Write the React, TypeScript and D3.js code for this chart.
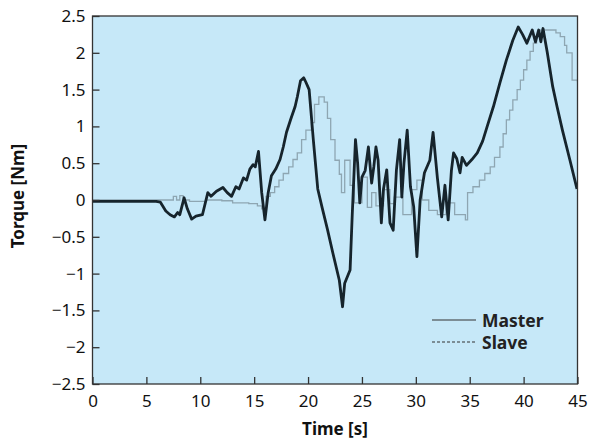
import React, { useEffect, useRef } from 'react';
import * as d3 from 'd3';

// master torque trace (time in s, torque in Nm)
const masterTime = [0, 5.9, 6.3, 6.8, 7.2, 7.6, 7.9, 8.1, 8.5, 8.8, 9.2, 9.6, 10.2, 10.7, 11.0, 11.5, 12.1, 12.5, 12.9, 13.3, 13.6, 14.0, 14.3, 14.6, 14.9, 15.1, 15.4, 15.7, 16.0, 16.3, 16.6, 17.0, 17.4, 17.7, 18.0, 18.4, 18.8, 19.0, 19.3, 19.6, 19.8, 20.1, 20.5, 20.9, 21.3, 21.8, 22.3, 22.9, 23.2, 23.4, 23.9, 24.1, 24.4, 24.6, 24.8, 25.0, 25.3, 25.6, 25.9, 26.1, 26.3, 26.5, 26.8, 27.0, 27.3, 27.6, 27.9, 28.2, 28.5, 28.7, 28.9, 29.2, 29.5, 29.8, 30.1, 30.4, 30.8, 31.3, 31.6, 32.0, 32.4, 32.7, 33.0, 33.3, 33.5, 33.8, 34.1, 34.3, 34.7, 35.2, 35.7, 36.2, 36.6, 37.2, 37.8, 38.4, 39.0, 39.5, 39.9, 40.3, 40.8, 41.1, 41.4, 41.6, 41.8, 42.2, 42.7, 43.1, 43.6, 44.3, 44.95];
const masterTorque = [-0.02, -0.02, -0.03, -0.15, -0.2, -0.23, -0.17, -0.2, 0.03, -0.12, -0.26, -0.22, -0.2, 0.1, 0.05, 0.12, 0.17, 0.1, 0.05, 0.18, 0.15, 0.3, 0.27, 0.42, 0.48, 0.45, 0.66, 0.1, -0.27, 0.1, 0.33, 0.42, 0.55, 0.72, 0.92, 1.1, 1.27, 1.4, 1.62, 1.66, 1.6, 1.5, 0.8, 0.15, -0.1, -0.4, -0.72, -1.09, -1.45, -1.13, -0.95, -0.2, 0.82, 0.5, -0.04, 0.31, 0.4, 0.72, 0.23, 0.45, 0.72, 0.54, -0.31, 0.15, 0.41, -0.31, -0.41, 0.41, 0.82, 0.04, 0.5, 0.95, 0.18, -0.09, -0.77, 0.0, 0.37, 0.54, 0.92, 0.3, -0.23, 0.2, -0.27, 0.4, 0.64, 0.56, 0.37, 0.58, 0.47, 0.55, 0.64, 0.8, 0.99, 1.27, 1.59, 1.9, 2.17, 2.35, 2.25, 2.13, 2.31, 2.15, 2.31, 2.15, 2.33, 2.0, 1.54, 1.27, 0.95, 0.54, 0.15];

// slave torque trace (stepped)
const slaveTime = [0, 7.3, 7.5, 7.8, 8.1, 8.4, 9.0, 10.5, 12.0, 13.0, 14.5, 15.3, 15.7, 16.1, 16.5, 16.9, 17.3, 17.7, 18.2, 18.6, 19.0, 19.4, 19.8, 20.3, 20.6, 21.0, 21.5, 21.8, 22.1, 22.5, 22.9, 23.1, 23.4, 23.9, 24.3, 25.0, 25.5, 25.9, 26.3, 27.0, 27.6, 28.0, 28.8, 29.6, 30.1, 30.6, 31.2, 32.0, 32.8, 33.6, 34.6, 34.8, 35.3, 35.9, 36.4, 36.9, 37.3, 37.8, 38.1, 38.4, 38.7, 39.0, 39.4, 39.7, 40.0, 40.3, 40.6, 40.9, 41.2, 41.5, 42.4, 43.0, 43.4, 43.8, 44.0, 44.5, 45];
const slaveTorque = [0, 0, 0.05, 0, 0.06, 0, -0.02, 0, -0.01, -0.04, -0.05, -0.08, -0.12, 0.05, 0.1, 0.18, 0.27, 0.36, 0.45, 0.55, 0.64, 0.82, 0.95, 1.05, 1.3, 1.4, 1.33, 1.11, 0.82, 0.54, 0.35, 0.1, 0.54, 0.2, -0.04, 0.31, -0.1, 0.1, -0.08, 0.14, -0.05, 0.04, -0.2, 0.14, 0.27, 0, -0.14, -0.2, -0.04, -0.2, -0.27, 0.1, 0.18, 0.27, 0.36, 0.45, 0.58, 0.72, 0.9, 1.09, 1.22, 1.36, 1.5, 1.63, 1.77, 1.9, 2.02, 2.13, 2.22, 2.31, 2.31, 2.27, 2.22, 2.1, 2.0, 1.63, 1.6];

const xTicks = [0, 5, 10, 15, 20, 25, 30, 35, 40, 45];
const yTicks = [-2.5, -2, -1.5, -1, -0.5, 0, 0.5, 1, 1.5, 2, 2.5];

const FONT = '"Noto Sans", "Open Sans", sans-serif';

const App = () => {
	const ref = useRef<SVGSVGElement>(null);

	useEffect(() => {
		const svg = d3.select(ref.current);
		svg.selectAll('*').remove();

		const left = 92.5, right = 577.5, top = 16, bottom = 384;
		const x = d3.scaleLinear().domain([0, 45]).range([left, right]);
		const y = d3.scaleLinear().domain([-2.5, 2.5]).range([bottom, top]);

		// plot background
		svg.append('rect')
			.attr('x', left).attr('y', top)
			.attr('width', right - left).attr('height', bottom - top)
			.attr('fill', '#c6e8f8');

		const clip = svg.append('clipPath').attr('id', 'plotclip');
		clip.append('rect')
			.attr('x', left).attr('y', top)
			.attr('width', right - left).attr('height', bottom - top);

		const slave = slaveTime.map((t, i) => [t, slaveTorque[i]] as [number, number]);
		const master = masterTime.map((t, i) => [t, masterTorque[i]] as [number, number]);

		svg.append('path')
			.datum(slave)
			.attr('clip-path', 'url(#plotclip)')
			.attr('fill', 'none')
			.attr('stroke', '#8ea6b2')
			.attr('stroke-width', 1.3)
			.attr('d', d3.line().x(d => x(d[0])).y(d => y(d[1])).curve(d3.curveStepAfter));

		svg.append('path')
			.datum(master)
			.attr('clip-path', 'url(#plotclip)')
			.attr('fill', 'none')
			.attr('stroke', '#16242c')
			.attr('stroke-width', 2.8)
			.attr('stroke-linejoin', 'round')
			.attr('d', d3.line().x(d => x(d[0])).y(d => y(d[1])));

		// axes, ticks point inward
		const fmt = (d: d3.NumberValue) => d3.format('')(d as number);
		const gy = svg.append('g')
			.attr('transform', `translate(${left},0)`)
			.call(d3.axisLeft(y).tickValues(yTicks).tickSize(-7).tickPadding(7).tickFormat(fmt));
		const gx = svg.append('g')
			.attr('transform', `translate(0,${bottom})`)
			.call(d3.axisBottom(x).tickValues(xTicks).tickSize(-7).tickPadding(11).tickFormat(fmt));

		[gx, gy].forEach(g => {
			g.select('.domain').remove();
			g.selectAll('line').attr('stroke', '#333').attr('stroke-width', 1.3);
			g.selectAll('text')
				.attr('fill', '#111')
				.style('font-family', FONT)
				.style('font-size', '17px');
		});

		// frame
		svg.append('rect')
			.attr('x', left).attr('y', top)
			.attr('width', right - left).attr('height', bottom - top)
			.attr('fill', 'none')
			.attr('stroke', '#333')
			.attr('stroke-width', 1.3);

		// axis titles
		svg.append('text')
			.text('Time [s]')
			.attr('x', (left + right) / 2)
			.attr('y', 435)
			.attr('text-anchor', 'middle')
			.style('font-family', FONT)
			.style('font-weight', 'bold')
			.style('font-size', '17px')
			.attr('fill', '#111');

		svg.append('text')
			.text('Torque [Nm]')
			.attr('transform', 'translate(24,196) rotate(-90)')
			.attr('text-anchor', 'middle')
			.style('font-family', FONT)
			.style('font-weight', 'bold')
			.style('font-size', '17px')
			.attr('fill', '#111');

		// legend
		const lg = svg.append('g');
		lg.append('line')
			.attr('x1', 432).attr('x2', 476).attr('y1', 320).attr('y2', 320)
			.attr('stroke', '#333').attr('stroke-width', 1.2);
		lg.append('line')
			.attr('x1', 432).attr('x2', 476).attr('y1', 342).attr('y2', 342)
			.attr('stroke', '#333').attr('stroke-width', 1.2)
			.attr('stroke-dasharray', '3,2');
		lg.append('text').text('Master')
			.attr('x', 482).attr('y', 327)
			.style('font-family', FONT).style('font-weight', 'bold').style('font-size', '17.5px')
			.attr('fill', '#222');
		lg.append('text').text('Slave')
			.attr('x', 482).attr('y', 349)
			.style('font-family', FONT).style('font-weight', 'bold').style('font-size', '17.5px')
			.attr('fill', '#222');
	}, []);

	return (
		<svg ref={ref} width={591} height={443}
			style={{ position: 'absolute', left: 0, top: 0, background: '#fff' }} />
	);
};

export default App;
